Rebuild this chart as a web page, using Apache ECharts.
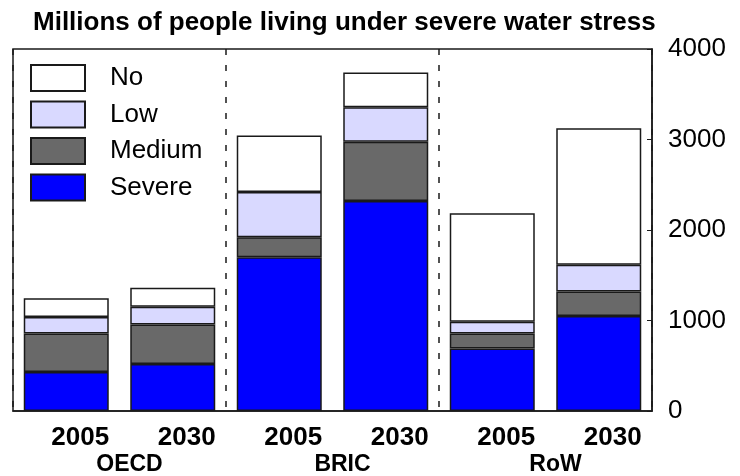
<!DOCTYPE html>
<html>
<head>
<meta charset="utf-8">
<script src="https://cdn.jsdelivr.net/npm/echarts@6/dist/echarts.min.js"></script>
<style>html,body{margin:0;padding:0;background:#fff;}#c{width:740px;height:476px;}</style>
</head>
<body>
<div id="c"></div>
<script>
const years = ['2005', '2030', '2005', '2030', '2005', '2030'];
const groups = ['OECD', 'BRIC', 'RoW'];
const severe = [430, 520, 1700, 2320, 690, 1050];
const medium = [425, 437, 220, 655, 165, 270];
const low = [185, 195, 500, 380, 130, 295];
const none = [205, 210, 625, 385, 1200, 1510];
const yTicks = [0, 1000, 2000, 3000, 4000];

const FONT = 'Liberation Sans, Arial, Helvetica, sans-serif';
const chart = echarts.init(document.getElementById('c'), null, {renderer: 'canvas'});

function bar(name, data, color) {
  return {
    name: name, type: 'bar', stack: 'total', data: data,
    xAxisIndex: 0, barWidth: 85,
    itemStyle: {color: color, borderColor: '#1a1a1a', borderWidth: 1.5},
    emphasis: {disabled: true}, animation: false
  };
}

chart.setOption({
  animation: false,
  title: {
    text: 'Millions of people living under severe water stress',
    left: 28, top: 5,
    textStyle: {fontFamily: FONT, fontSize: 26, fontWeight: 'bold', color: '#000'}
  },
  legend: {
    data: ['No', 'Low', 'Medium', 'Severe'],
    orient: 'vertical', left: 30, top: 64, padding: 0,
    itemWidth: 54, itemHeight: 26, itemGap: 8.5,
    icon: 'rect',
    textStyle: {fontFamily: FONT, fontSize: 26, color: '#000', padding: [0, 0, 0, 20]},
    selectedMode: false
  },
  grid: {
    left: 13, right: 88, top: 49, bottom: 65,
    show: true, borderColor: '#1a1a1a', borderWidth: 1.5, backgroundColor: 'transparent'
  },
  xAxis: [
    {
      type: 'category', data: years, position: 'bottom',
      axisLine: {show: true, lineStyle: {color: '#1a1a1a', width: 1.5}},
      axisTick: {show: false},
      axisLabel: {fontFamily: FONT, fontSize: 26, fontWeight: 'bold', color: '#000', margin: 14, padding: [0, 0, 0, 28]},
      splitLine: {show: false}
    },
    {
      type: 'category', data: groups, position: 'bottom', offset: 29,
      axisLine: {show: false}, axisTick: {show: false},
      axisLabel: {fontFamily: FONT, fontSize: 23, fontWeight: 'bold', color: '#000', margin: 13, padding: [0, 0, 0, 20]},
      splitLine: {show: true, lineStyle: {color: '#1a1a1a', width: 1.5, type: [6, 10]}}
    }
  ],
  yAxis: {
    type: 'value', position: 'right', min: yTicks[0], max: yTicks[yTicks.length - 1], interval: 1000,
    axisLine: {show: true, lineStyle: {color: '#1a1a1a', width: 1.5}},
    axisTick: {show: true, inside: true, length: 5, lineStyle: {color: '#1a1a1a'}},
    axisLabel: {fontFamily: FONT, fontSize: 26, color: '#000', margin: 16, formatter: function (v) { return String(v); }},
    splitLine: {show: false}
  },
  series: [
    bar('Severe', severe, '#0000ff'),
    bar('Medium', medium, '#696969'),
    bar('Low', low, '#d9d9ff'),
    bar('No', none, '#ffffff')
  ]
});
</script>
</body>
</html>
